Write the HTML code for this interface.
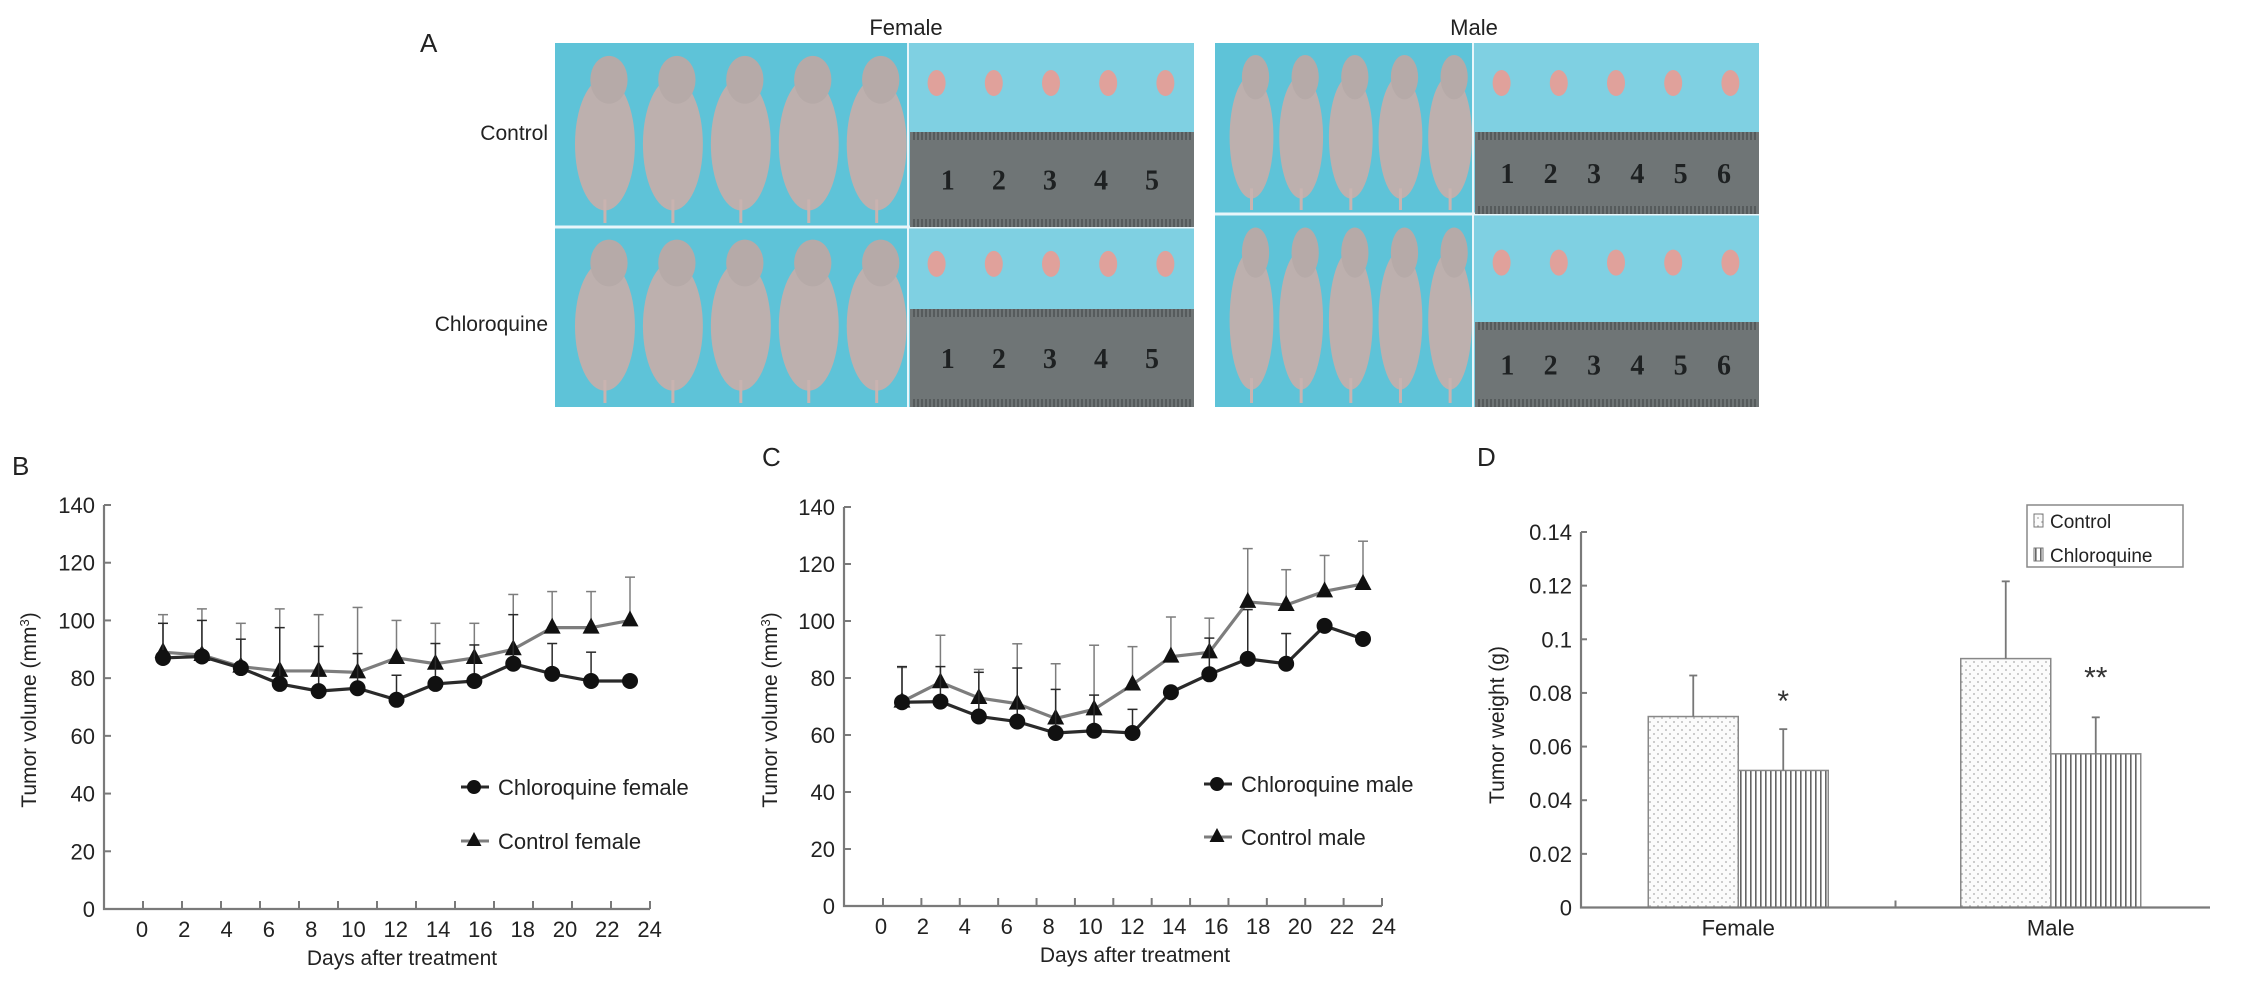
<!DOCTYPE html>
<html><head><meta charset="utf-8"><style>
html,body{margin:0;padding:0;background:#fff;}
svg{display:block;font-family:"Liberation Sans",Arial,sans-serif;}
</style></head><body>
<svg id="fig" width="2244" height="991" viewBox="0 0 2244 991" xmlns="http://www.w3.org/2000/svg">
<defs>
<pattern id="dots" width="8" height="8" patternUnits="userSpaceOnUse"><rect width="8" height="8" fill="#fbfbfb"/><circle cx="2" cy="2" r="0.9" fill="#aaa"/><circle cx="6" cy="6" r="0.9" fill="#aaa"/></pattern>
<pattern id="vlines" width="5" height="8" patternUnits="userSpaceOnUse"><rect width="5" height="8" fill="#fff"/><rect x="0" width="1.6" height="8" fill="#666"/></pattern>
</defs>
<g id="panelA">
<text x="420" y="52" font-size="26" fill="#222">A</text>
<text x="906" y="35" font-size="22" text-anchor="middle" fill="#222">Female</text>
<text x="1474" y="35" font-size="22" text-anchor="middle" fill="#222">Male</text>
<text x="548" y="140" font-size="21" text-anchor="end" fill="#222">Control</text>
<text x="548" y="331" font-size="21" text-anchor="end" fill="#222">Chloroquine</text>
</g>
<g id="charts"></g>
</svg>
<script>
// ---------- shared axis labels ----------
const xTickLabels = [0,2,4,6,8,10,12,14,16,18,20,22,24];
const yTickLabels = [0,20,40,60,80,100,120,140];
// ---------- Panel B data ----------
const chloroFemale = [87,87.5,83.5,78,75.5,76.5,72.5,78,79,85,81.5,79,79];
const controlFemale = [89,88,84,82.5,82.5,82,87,85,87,90,97.5,97.5,100];
const chloroFemaleErr = [99,100,93.5,97.5,91,88.5,81,92,91.5,102,92,89,79];
const controlFemaleErr = [102,104,99,104,102,104.5,100,99,99,109,110,110,115];
// ---------- Panel C data ----------
const chloroMale = [71.5,71.7,66.5,64.7,60.7,61.5,60.7,75,81.3,86.7,85,98.3,93.7];
const controlMale = [71.7,78.5,73,71,65.8,69,77.7,87.5,89,106.7,105.6,110.4,113];
const chloroMaleErr = [84,84,82,83.5,76,74,69,75,94,104,95.6,98.3,93.7];
const controlMaleErr = [83.7,95,83,92,85,91.5,91,101.4,101,125.4,118,123,128];
// ---------- Panel D data ----------
const dCategories = ['Female','Male'];
const dControl = [0.0712,0.0928];
const dChloro = [0.0511,0.0573];
const dControlErr = [0.0865,0.1216];
const dChloroErr = [0.0665,0.0709];
const dStars = ['*','**'];
const dYTicks = [0,0.02,0.04,0.06,0.08,0.1,0.12,0.14];

const NS='http://www.w3.org/2000/svg';
const root=document.getElementById('charts');
const A=document.getElementById('panelA');
function mk(tag,attrs,parent){const e=document.createElementNS(NS,tag);for(const k in attrs)e.setAttribute(k,attrs[k]);(parent||root).appendChild(e);return e;}

// ---------- photos ----------
function photo(x0,x1,xs,y0,ys,y1,rTop,rBot,nums,g){
  const bg=mk('rect',{x:x0,y:y0,width:x1-x0,height:y1-y0,fill:'#5ec3d8'},g);
  
  
  mk('rect',{x:xs,y:y0,width:x1-xs,height:y1-y0,fill:'#7fd0e2'},g);
  mk('line',{x1:x0,y1:ys,x2:x1,y2:ys,stroke:'#e8f6fa','stroke-width':3},g);
  mk('line',{x1:xs,y1:y0,x2:xs,y2:y1,stroke:'#e8f6fa','stroke-width':2},g);
  [[y0,ys,rTop],[ys,y1,rBot]].forEach(([a,b,r])=>{
    const w=(xs-x0)/5.3;
    for(let i=0;i<5;i++){
      const cx=x0+w*0.75+i*w*1.02;
      mk('ellipse',{cx:cx,cy:a+(b-a)*0.55,rx:w*0.45,ry:(b-a)*0.36,fill:'#bdb0ae'},g);
      mk('ellipse',{cx:cx+4,cy:a+(b-a)*0.2,rx:w*0.28,ry:(b-a)*0.13,fill:'#b6aaa8'},g);
      mk('line',{x1:cx,y1:a+(b-a)*0.85,x2:cx,y2:b-4,stroke:'#c9b3b0','stroke-width':3},g);
    }
    const tw=(x1-xs)/5;
    for(let i=0;i<5;i++){
      mk('ellipse',{cx:xs+tw*(i+0.5),cy:a+(r-a)*0.45,rx:9,ry:13,fill:'#e0a19b'},g);
    }
    const ru=mk('rect',{x:xs+2,y:r,width:x1-xs-2,height:b-r,fill:'#6f7576'},g);
    
    
    for(let t=xs+6;t<x1;t+=4){mk('line',{x1:t,y1:r,x2:t,y2:r+8,stroke:'#3d4142','stroke-width':1},g);mk('line',{x1:t,y1:b-8,x2:t,y2:b,stroke:'#3d4142','stroke-width':1},g);}
    const uw=(x1-xs)/(nums+0.6);
    for(let n=1;n<=nums;n++){
      const tx=mk('text',{x:xs+uw*(n-0.3)+4,y:(r+b)/2+10,'font-size':28,'font-family':'"Liberation Serif",serif','font-weight':'bold',fill:'#1e2122','text-anchor':'middle'},g);
      tx.textContent=n;
    }
  });
}
photo(555,1194,908,43,227,407,132,309,5,A);
photo(1215,1759,1473,43,214,407,132,322,6,A);

// ---------- line charts ----------
function lineChart(cfg){
  const g=mk('g',{});
  
  
  const xs=d=>cfg.x0+d*cfg.slope;
  const ys=v=>cfg.y0-(v/140)*(cfg.y0-cfg.yTop);
  const n=cfg.ctrl.length;
  const px=i=>cfg.p0+i*(cfg.p1-cfg.p0)/(n-1);
  const ax=mk('path',{d:`M${cfg.ax} ${ys(140)} L${cfg.ax} ${cfg.y0} L${cfg.axEnd} ${cfg.y0}`,stroke:'#7a7a7a','stroke-width':2.2,fill:'none'},g);
  
  
  for(let i=0;i<14;i++){const tx=cfg.tick0+i*(cfg.axEnd-cfg.tick0)/13;mk('line',{x1:tx,y1:cfg.y0,x2:tx,y2:cfg.y0-8,stroke:'#7a7a7a','stroke-width':2},g);}
  xTickLabels.forEach(l=>{const t=mk('text',{x:xs(l),y:cfg.y0+28,'font-size':22,'text-anchor':'middle',fill:'#222'},g);t.textContent=l;
    
    });
  yTickLabels.forEach(l=>{mk('line',{x1:cfg.ax,y1:ys(l),x2:cfg.ax+7,y2:ys(l),stroke:'#7a7a7a','stroke-width':2},g);
    const t=mk('text',{x:cfg.ax-9,y:ys(l)+8,'font-size':22,'text-anchor':'end',fill:'#222'},g);t.textContent=l;
    
    });
  const xt=mk('text',{x:cfg.xTitleX,y:cfg.y0+56,'font-size':21,'text-anchor':'middle',fill:'#222'},g);xt.textContent='Days after treatment';
  
  
  const yt=mk('text',{x:0,y:0,'font-size':21,'text-anchor':'middle',fill:'#222',transform:`translate(${cfg.yTitleX},${cfg.yTitleY}) rotate(-90)`},g);
  yt.innerHTML='Tumor volume (mm<tspan baseline-shift="super" font-size="13">3</tspan>)';
  
  
  const pl=mk('text',{x:cfg.letterX,y:cfg.letterY,'font-size':26,fill:'#222'},g);pl.textContent=cfg.letter;
  
  
  const series=[{v:cfg.ctrl,e:cfg.ctrlErr,c:'#7d7d7d',m:'tri',n:'control-series'},{v:cfg.chl,e:cfg.chlErr,c:'#2a2a2a',m:'circ',n:'chloroquine-series'}];
  series.forEach(s=>{
    const sg=mk('g',{},g);
    
    
    s.v.forEach((v,i)=>{const x=px(i);
      if(s.e[i]>v+0.5){mk('line',{x1:x,y1:ys(v),x2:x,y2:ys(s.e[i]),stroke:s.c,'stroke-width':1.5},sg);mk('line',{x1:x-5,y1:ys(s.e[i]),x2:x+5,y2:ys(s.e[i]),stroke:s.c,'stroke-width':1.5},sg);}
    });
    mk('polyline',{points:s.v.map((v,i)=>px(i)+','+ys(v)).join(' '),stroke:s.c,'stroke-width':3.2,fill:'none'},sg);
    s.v.forEach((v,i)=>{const x=px(i),y=ys(v);let m;
      if(s.m==='circ')m=mk('circle',{cx:x,cy:y,r:8,fill:'#111'},sg);
      else m=mk('polygon',{points:`${x},${y-10} ${x-8.5},${y+6} ${x+8.5},${y+6}`,fill:'#111'},sg);
      
      });
  });
  const lg=mk('g',{},g);
  
  
  [[cfg.leg1,'#2a2a2a','circ',cfg.legY1],[cfg.leg2,'#7d7d7d','tri',cfg.legY2]].forEach(([txt,c,m,y])=>{
    const e=mk('g',{},lg);
    
    
    mk('line',{x1:cfg.legX,y1:y,x2:cfg.legX+28,y2:y,stroke:c,'stroke-width':3},e);
    const mx=cfg.legX+13;
    if(m==='circ')mk('circle',{cx:mx,cy:y,r:7,fill:'#111'},e);else mk('polygon',{points:`${mx},${y-9} ${mx-7.5},${y+5} ${mx+7.5},${y+5}`,fill:'#111'},e);
    const t=mk('text',{x:cfg.legX+37,y:y+8,'font-size':22,fill:'#222'},e);t.textContent=txt;
  });
}
lineChart({name:'chart-b-female-volume',letter:'B',letterX:12,letterY:475,ax:104,axEnd:650,tick0:143,x0:142,slope:21.15,y0:909,yTop:505,p0:163,p1:630,
  ctrl:controlFemale,ctrlErr:controlFemaleErr,chl:chloroFemale,chlErr:chloroFemaleErr,xTitleX:402,yTitleX:36,yTitleY:710,
  leg1:'Chloroquine female',leg2:'Control female',legX:461,legY1:787,legY2:841});
lineChart({name:'chart-c-male-volume',letter:'C',letterX:762,letterY:466,ax:844,axEnd:1382,tick0:883,x0:881,slope:20.95,y0:906,yTop:507,p0:902,p1:1363,
  ctrl:controlMale,ctrlErr:controlMaleErr,chl:chloroMale,chlErr:chloroMaleErr,xTitleX:1135,yTitleX:777,yTitleY:710,
  leg1:'Chloroquine male',leg2:'Control male',legX:1204,legY1:784,legY2:837});

// ---------- bar chart D ----------
(function(){
  const g=mk('g',{});
  
  
  const ax=1581,axEnd=2210,y0=907.5,yTop=532;
  const ys=v=>y0-(v/0.14)*(y0-yTop);
  const catW=(axEnd-ax)/dCategories.length;
  const bw=90;
  const pl=mk('text',{x:1477,y:466,'font-size':26,fill:'#222'},g);pl.textContent='D';
  
  
  dCategories.forEach((c,i)=>{
    const cx=ax+catW*(i+0.5)+(i===0?0:-2);
    const b1=mk('rect',{x:cx-bw,y:ys(dControl[i]),width:bw,height:y0-ys(dControl[i]),fill:'url(#dots)',stroke:'#888','stroke-width':1.5},g);
    
    
    const b2=mk('rect',{x:cx,y:ys(dChloro[i]),width:bw,height:y0-ys(dChloro[i]),fill:'url(#vlines)',stroke:'#888','stroke-width':1.5},g);
    
    
    [[cx-bw/2,dControl[i],dControlErr[i]],[cx+bw/2,dChloro[i],dChloroErr[i]]].forEach(([x,v,e])=>{
      mk('line',{x1:x,y1:ys(v),x2:x,y2:ys(e),stroke:'#777','stroke-width':1.8},g);
      mk('line',{x1:x-4,y1:ys(e),x2:x+4,y2:ys(e),stroke:'#777','stroke-width':1.8},g);
    });
    const st=mk('text',{x:cx+bw/2,y:ys(dChloroErr[i])-(i===0?40:52)+22,'font-size':30,'text-anchor':'middle',fill:'#333'},g);st.textContent=dStars[i];
    
    
    const t=mk('text',{x:cx,y:y0+28,'font-size':22,'text-anchor':'middle',fill:'#222'},g);t.textContent=c;
    
    
  });
  const a=mk('path',{d:`M${ax} ${yTop} L${ax} ${y0} L${axEnd} ${y0}`,stroke:'#7a7a7a','stroke-width':2.2,fill:'none'},g);
  
  
  mk('line',{x1:ax+catW,y1:y0,x2:ax+catW,y2:y0-7,stroke:'#7a7a7a','stroke-width':2},g);
  dYTicks.forEach(v=>{mk('line',{x1:ax,y1:ys(v),x2:ax+6,y2:ys(v),stroke:'#7a7a7a','stroke-width':2},g);
    const t=mk('text',{x:ax-9,y:ys(v)+8,'font-size':22,'text-anchor':'end',fill:'#222'},g);t.textContent=String(v);
    
    });
  const yt=mk('text',{x:0,y:0,'font-size':21,'text-anchor':'middle',fill:'#222',transform:'translate(1504,725) rotate(-90)'},g);yt.textContent='Tumor weight (g)';
  
  
  const lg=mk('g',{},g);
  
  
  mk('rect',{x:2027,y:505,width:156,height:62,fill:'#fff',stroke:'#888','stroke-width':1.5},lg);
  mk('rect',{x:2034,y:514,width:9,height:13,fill:'url(#dots)',stroke:'#777','stroke-width':1},lg);
  mk('rect',{x:2034,y:548,width:9,height:13,fill:'url(#vlines)',stroke:'#777','stroke-width':1},lg);
  const l1=mk('text',{x:2050,y:528,'font-size':19,fill:'#222'},lg);l1.textContent='Control';
  
  
  const l2=mk('text',{x:2050,y:562,'font-size':19,fill:'#222'},lg);l2.textContent='Chloroquine';
  
  
})();
</script>
</body></html>
